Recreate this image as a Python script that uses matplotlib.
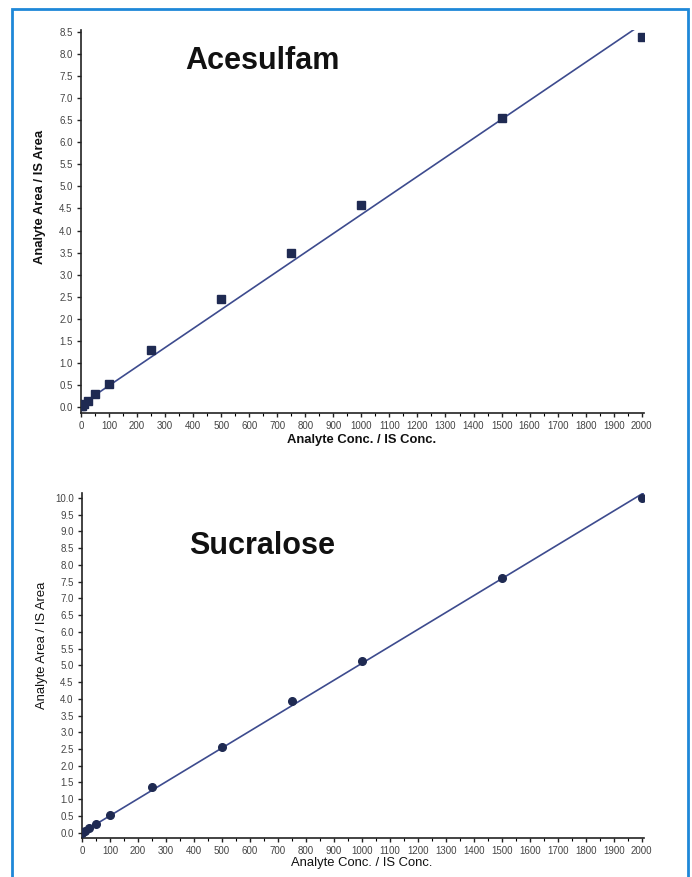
import numpy as np
import matplotlib
matplotlib.use("Agg")
import matplotlib.pyplot as plt
from matplotlib.patches import Rectangle

plt.rcParams['font.family'] = ['Liberation Sans', 'DejaVu Sans']

# ---- data ----
conc = [1, 5, 10, 25, 50, 100, 250, 500, 750, 1000, 1500, 2000]
acesulfam_ratio = [0.01, 0.03, 0.06, 0.13, 0.28, 0.51, 1.29, 2.44, 3.50, 4.59, 6.56, 8.40]
sucralose_ratio = [0.00, 0.02, 0.05, 0.13, 0.26, 0.53, 1.37, 2.57, 3.94, 5.13, 7.62, 9.99]
acesulfam_fit = (0.004315, 0.05)   # slope, intercept
sucralose_fit = (0.00506, 0.0)
x_ticks = list(range(0, 2001, 100))
acesulfam_yticks = [i * 0.5 for i in range(0, 18)]
sucralose_yticks = [i * 0.5 for i in range(0, 21)]

W, H = 692, 877
fig = plt.figure(figsize=(W / 100, H / 100), dpi=100)
fig.patch.set_facecolor('white')

# blue frame
fig.patches.append(Rectangle((12 / W, -0.01), (688 - 12) / W, 1 - 9 / H + 0.01,
                             transform=fig.transFigure, fill=False,
                             edgecolor='#1e88d8', linewidth=2))

marker_color = '#1f2a52'
line_color = '#3d4b8e'


def make_axes(rect, ratio, fit, yticks, ylim, title, title_y, bold, ylab_xy, xlab_xy, marker):
    ax = fig.add_axes(rect)
    ax.set_xlim(0, 2008)
    ax.set_ylim(*ylim)
    for s in ('top', 'right'):
        ax.spines[s].set_visible(False)
    for s in ('left', 'bottom'):
        ax.spines[s].set_linewidth(1.2)
        ax.spines[s].set_color('#222222')
    xs = np.array(ax.get_xlim())
    ax.plot(xs, fit[0] * xs + fit[1], color=line_color, lw=1.2, zorder=2)
    ax.plot(conc, ratio, marker, color=marker_color, ms=5.5, zorder=3)
    ax.set_xticks(x_ticks)
    ax.set_xticks(list(range(50, 2001, 100)), minor=True)
    ax.set_yticks(yticks)
    ax.set_xticklabels([str(v) for v in x_ticks])
    ax.set_yticklabels([f"{v:.1f}" for v in yticks])
    ax.tick_params(axis='both', which='major', direction='out', length=3, width=1,
                   labelsize=7, colors='#222222', pad=3)
    ax.tick_params(axis='x', which='minor', direction='out', length=2, width=0.8)
    for lab in ax.get_xticklabels() + ax.get_yticklabels():
        lab.set_color('#444444')
    weight = 'bold' if bold else 'normal'
    fig.text(262 / W, 1 - title_y / H, title, fontsize=22, fontweight='bold',
             ha='center', va='center', color='#111111')
    fig.text(ylab_xy[0] / W, 1 - ylab_xy[1] / H, 'Analyte Area / IS Area',
             rotation=90, fontsize=9.4, fontweight=weight, ha='center', va='center',
             color='#111111')
    fig.text(xlab_xy[0] / W, 1 - xlab_xy[1] / H, 'Analyte Conc. / IS Conc.',
             fontsize=9.4, fontweight=weight, ha='center', va='center', color='#111111')
    return ax


# top: Acesulfam
make_axes([81 / W, 1 - 413 / H, (644 - 81) / W, (413 - 30) / H],
          acesulfam_ratio, acesulfam_fit, acesulfam_yticks, (-0.14, 8.55),
          'Acesulfam', 61, True, (40, 197), (362, 440), 's')

# bottom: Sucralose
make_axes([82 / W, 1 - 838 / H, (644 - 82) / W, (838 - 493) / H],
          sucralose_ratio, sucralose_fit, sucralose_yticks, (-0.16, 10.15),
          'Sucralose', 546, False, (42, 645), (362, 863), 'o')

fig.savefig('out.png', dpi=100, facecolor='white')
